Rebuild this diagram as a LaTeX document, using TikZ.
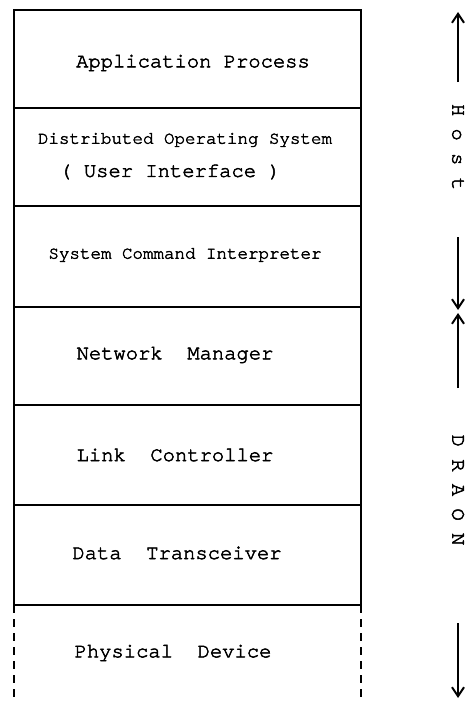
\documentclass[tikz,border=0pt]{standalone}
\usepackage{fontspec}
\newfontfamily\bigtt[FakeBold=2.5]{texgyrecursor-regular.otf}
\newfontfamily\smalltt[FakeBold=2.5]{texgyrecursor-regular.otf}
\usetikzlibrary{arrows.meta}
\begin{document}
\begin{tikzpicture}[x=1pt,y=-1pt,
  layerbox/.style={draw, line width=1.7pt, minimum width=347pt, anchor=north west, inner sep=0pt, outer sep=0pt},
  lbl/.style={inner sep=0pt, font=\bigtt\fontsize{20.5}{22}\selectfont},
  slbl/.style={inner sep=0pt, font=\smalltt\fontsize{17.5}{20}\selectfont},
  side/.style={lbl, rotate=-90},
  arr/.style={line width=2pt, -{Straight Barb[length=9pt,width=12pt,line width=2pt]}},
  dashline/.style={line width=1.5pt, dash pattern=on 8pt off 6pt}]
\useasboundingbox (0,0) rectangle (468,701);
% layers
\node[layerbox, minimum height=98pt] (l1) at (14,10) {};
\node[layerbox, minimum height=98pt] (l2) at (14,108) {};
\node[layerbox, minimum height=101pt] (l3) at (14,206) {};
\node[layerbox, minimum height=98pt] (l4) at (14,307) {};
\node[layerbox, minimum height=100pt] (l5) at (14,405) {};
\node[layerbox, minimum height=100pt] (l6) at (14,505) {};
% physical device (dashed sides)
\coordinate (pl) at (14,701);
\coordinate (pr) at (361,701);
\draw[dashline] (l6.south west) -- (pl);
\draw[dashline] (l6.south east) -- (pr);
% texts
\node[lbl] (t1) at (193,63) {Application Process};
\node[slbl] (t2) at (185,140) {Distributed Operating System};
\node[lbl] (t2b) at (170,172) {( User Interface )};
\node[slbl] (t3) at (185,255) {System Command Interpreter};
\node[lbl] (t4) at (175,355) {Network\ \ Manager};
\node[lbl] (t5) at (175,455) {Link\ \ Controller};
\node[lbl] (t6) at (177,553) {Data\ \ Transceiver};
\node[lbl] (t7) at (173,653) {Physical\ \ Device};
% side labels
\node[side] (host) at (458,147) {H o s t};
\node[side] (draon) at (458,490) {D R A O N};
% arrows
\coordinate (a1s) at (458,82);  \coordinate (a1e) at (458,12);
\coordinate (a2s) at (458,237); \coordinate (a2e) at (458,310);
\coordinate (a3s) at (458,388); \coordinate (a3e) at (458,313);
\coordinate (a4s) at (458,623); \coordinate (a4e) at (458,698);
\draw[arr] (a1s) -- (a1e);
\draw[arr] (a2s) -- (a2e);
\draw[arr] (a3s) -- (a3e);
\draw[arr] (a4s) -- (a4e);
\end{tikzpicture}
\end{document}
